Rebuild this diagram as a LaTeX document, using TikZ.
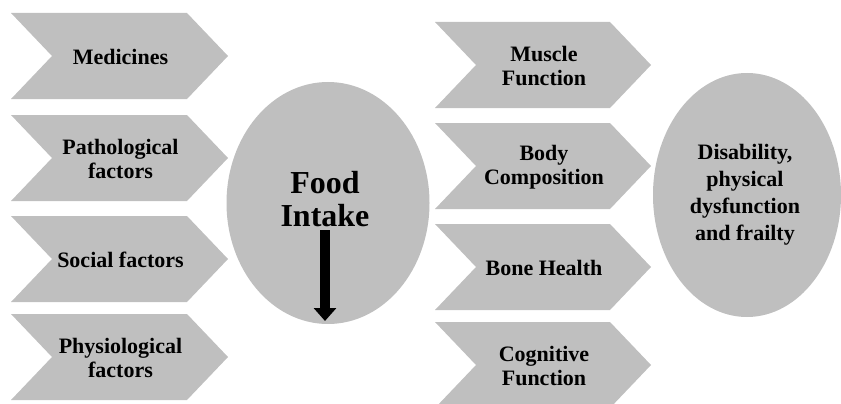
\documentclass[tikz,border=0pt]{standalone}
\usepackage{fontspec}
\setmainfont{Liberation Serif}[BoldFont={Liberation Serif Bold}]
\newfontfamily\lsbold{Liberation Serif Bold}
\usetikzlibrary{shapes.geometric,arrows.meta}
\definecolor{boxgray}{HTML}{BFBFBF}
\tikzset{
  chevfill/.style={fill=boxgray},
  lbl/.style={align=center, inner sep=0pt, font=\lsbold\fontsize{22}{24}\selectfont, text=black},
  bigl/.style={align=center, inner sep=0pt, font=\lsbold\fontsize{32}{33}\selectfont, text=black},
  rlbl/.style={align=center, inner sep=0pt, font=\lsbold\fontsize{22}{27}\selectfont, text=black},
  oval/.style={ellipse, fill=boxgray, inner sep=0pt},
  downarrow/.style={line width=10pt, -{Triangle[width=22pt,length=13pt]}}
}
\newcommand{\chev}[5]{%
  \fill[chevfill] (#1,#2-43) -- ++(#3-41,0) -- ++(41,43) -- ++(-41,43) -- ++(-#3+41,0) -- ++(41,-43) -- cycle;
  \node[lbl] (#4) at (#1+#3/2+1,#2+1) {#5};}
\begin{document}
\begin{tikzpicture}[x=1pt,y=-1pt]
\useasboundingbox (0,0) rectangle (841,404);
% left chevrons
\chev{11}{56}{217}{med}{Medicines}
\chev{11}{158}{217}{path}{Pathological\\factors}
\chev{11}{259}{217}{soc}{Social factors}
\chev{11}{357}{217}{phys}{Physiological\\factors}
% food intake
\node[oval, minimum width=203pt, minimum height=242pt] (foodE) at (328,203) {};
\node[bigl] (food) at (325,199) {Food\\Intake};
\coordinate (arrS) at (325,230);
\coordinate (arrE) at (325,321);
\draw[downarrow] (arrS) -- (arrE);
% right chevrons
\chev{435}{65}{216}{mus}{Muscle\\Function}
\chev{435}{166}{216}{body}{Body\\Composition}
\chev{435}{267}{216}{bone}{Bone Health}
\chev{435}{365}{216}{cog}{Cognitive\\Function}
% outcome
\node[oval, minimum width=188pt, minimum height=244pt] (disE) at (747,195) {};
\node[rlbl] (dis) at (745,195) {Disability,\\physical\\dysfunction\\and frailty};
\end{tikzpicture}
\end{document}
